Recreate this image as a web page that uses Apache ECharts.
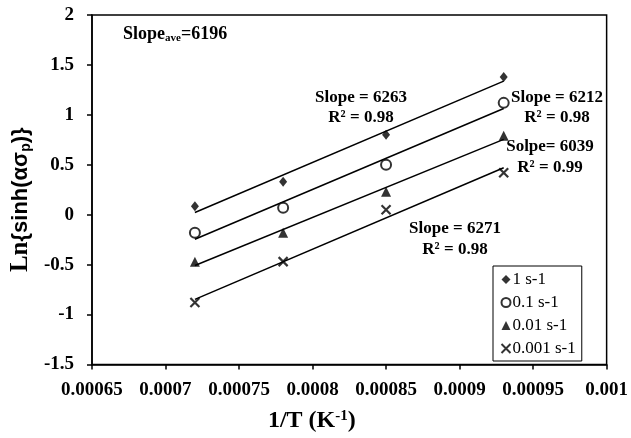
<!DOCTYPE html>
<html>
<head>
<meta charset="utf-8">
<script src="https://cdn.jsdelivr.net/npm/echarts@6/dist/echarts.min.js"></script>
<style>html,body{margin:0;padding:0;background:#fff}#c{width:631px;height:438px}</style>
</head>
<body>
<div id="c"></div>
<script>
var xValues = [0.00072, 0.00078, 0.00085, 0.00093];
var s1 = [0.084, 0.33, 0.80, 1.38];
var s01 = [-0.18, 0.07, 0.50, 1.12];
var s001 = [-0.47, -0.18, 0.23, 0.79];
var s0001 = [-0.88, -0.47, 0.05, 0.42];
var seriesNames = ['1 s-1', '0.1 s-1', '0.01 s-1', '0.001 s-1'];
var xTickLabels = ['0.00065','0.0007','0.00075','0.0008','0.00085','0.0009','0.00095','0.001'];
var yTickLabels = ['-1.5','-1','-0.5','0','0.5','1','1.5','2'];

var serif = 'Liberation Serif';
function pairs(ys){ return xValues.map(function(x,i){ return [x, ys[i]]; }); }
function fit(ys){
  var n = xValues.length, mx=0, my=0;
  for (var i=0;i<n;i++){ mx+=xValues[i]; my+=ys[i]; }
  mx/=n; my/=n;
  var sxy=0, sxx=0;
  for (var i=0;i<n;i++){ sxy+=(xValues[i]-mx)*(ys[i]-my); sxx+=(xValues[i]-mx)*(xValues[i]-mx); }
  var b = sxy/sxx, a = my - b*mx;
  var x0 = xValues[0], x1 = xValues[n-1];
  return [[x0, a+b*x0],[x1, a+b*x1]];
}
var allData = [s1, s01, s001, s0001];
var symbols = ['diamond', 'emptyCircle', 'triangle', 'path://M0,0 L10,10 M10,0 L0,10'];
var sizes = [[8,10], 10, 10, 9];
var series = [];
allData.forEach(function(d, i){
  series.push({
    type: 'line', data: fit(d), symbol: 'none', silent: true,
    lineStyle: {color: '#000', width: 1.5}, z: 1
  });
});
allData.forEach(function(d, i){
  var st = {color: '#000'};
  if (i === 1) st = {color: '#000', borderColor: '#000', borderWidth: 1.5};
  if (i === 3) st = {color: 'none', borderColor: '#000', borderWidth: 2.2};
  series.push({
    type: 'scatter', name: seriesNames[i], data: pairs(d),
    symbol: symbols[i], symbolSize: sizes[i], itemStyle: st, z: 3
  });
});

var chart = echarts.init(document.getElementById('c'), null, {renderer: 'canvas'});
chart.setOption({
  backgroundColor: '#fff',
  animation: false,
  grid: {left: 89, top: 15, right: 24, bottom: 72, show: true, borderColor: '#000', borderWidth: 1.5, backgroundColor: 'transparent'},
  xAxis: {
    type: 'value', min: 0.00065, max: 0.001, interval: 0.00005,
    splitLine: {show: false},
    axisLine: {onZero: false, lineStyle: {color: '#000', width: 1.5}},
    axisTick: {inside: false, length: 5, lineStyle: {color: '#000', width: 1.5}},
    axisLabel: {color: '#000', fontFamily: serif, fontWeight: 'bold', fontSize: 19, margin: 16,
      formatter: function(v){ var idx = Math.round((v-0.00065)/0.00005); return xTickLabels[idx]; }},
    name: '{a|1/T (K}{s|-1}{a|)}', nameLocation: 'middle', nameGap: 44,
    nameTextStyle: {padding: [0, 75, 0, 0], rich: {
      a: {fontFamily: serif, fontWeight: 'bold', fontSize: 24, color: '#000'},
      s: {fontFamily: serif, fontWeight: 'bold', fontSize: 15, color: '#000', verticalAlign: 'top', padding: [0,0,10,0]}
    }}
  },
  yAxis: {
    type: 'value', min: -1.5, max: 2, interval: 0.5,
    splitLine: {show: false},
    axisLine: {onZero: false, lineStyle: {color: '#000', width: 1.5}},
    axisTick: {inside: false, length: 5, lineStyle: {color: '#000', width: 1.5}},
    axisLabel: {color: '#000', fontFamily: serif, fontWeight: 'bold', fontSize: 19, margin: 18,
      formatter: function(v){ var idx = Math.round((v+1.5)/0.5); return yTickLabels[idx]; }},
    name: '{l|Ln}{sinh(ασ{p|p})}', nameLocation: 'middle', nameRotate: 90, nameGap: 40,
    nameTextStyle: {fontFamily: 'Liberation Sans', fontWeight: 'bold', fontSize: 22, color: '#000',
      padding: [0, 20, 0, 0], rich: {
      l: {fontFamily: serif, fontWeight: 'bold', fontSize: 25, color: '#000'},
      p: {fontFamily: 'Liberation Sans', fontWeight: 'bold', fontSize: 14, color: '#000', verticalAlign: 'bottom', padding: [9,0,0,0]}
    }}
  },
  legend: {
    orient: 'vertical', left: 493, top: 266, width: 89,
    borderColor: '#000', borderWidth: 1, padding: [5, 6, 4, 6], itemGap: 6,
    itemWidth: 9, itemHeight: 9,
    textStyle: {fontFamily: serif, fontSize: 17, color: '#000', padding: [0,0,0,-3]},
    data: seriesNames
  },
  graphic: [
    {type: 'text', left: 123, top: 25, style: {rich: {
        a: {fontFamily: serif, fontWeight: 'bold', fontSize: 18, fill: '#000'},
        s: {fontFamily: serif, fontWeight: 'bold', fontSize: 11, fill: '#000', verticalAlign: 'bottom', padding: [8,0,0,0]}
      }, text: '{a|Slope}{s|ave}{a|=6196}'}},
    {type: 'text', x: 361, y: 108, style: {text: 'Slope = 6263\nR² = 0.98', align: 'center', verticalAlign: 'middle', lineHeight: 20, font: 'bold 17px "Liberation Serif"', fill: '#000'}, z: 10},
    {type: 'text', x: 557, y: 108, style: {text: 'Slope = 6212\nR² = 0.98', align: 'center', verticalAlign: 'middle', lineHeight: 20, font: 'bold 17px "Liberation Serif"', fill: '#000'}, z: 10},
    {type: 'text', x: 550, y: 157, style: {text: 'Solpe= 6039\nR² = 0.99', align: 'center', verticalAlign: 'middle', lineHeight: 21, font: 'bold 17px "Liberation Serif"', fill: '#000'}, z: 10},
    {type: 'text', x: 455, y: 239, style: {text: 'Slope = 6271\nR² = 0.98', align: 'center', verticalAlign: 'middle', lineHeight: 21, font: 'bold 17px "Liberation Serif"', fill: '#000'}, z: 10}
  ],
  series: series
});
</script>
</body>
</html>
